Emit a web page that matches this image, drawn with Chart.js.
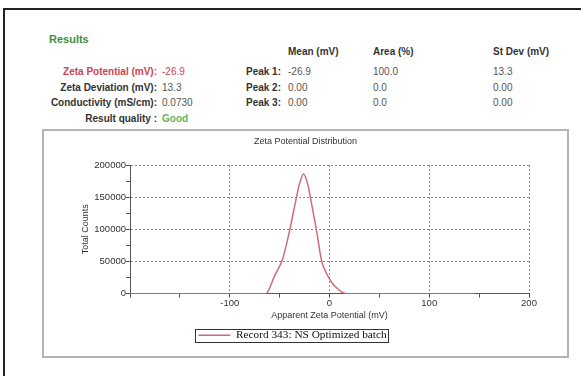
<!DOCTYPE html>
<html lang="en">
<head>
<meta charset="UTF-8">
<title>Zeta Potential Distribution</title>
<script src="https://cdn.jsdelivr.net/npm/chart.js@4.4.0/dist/chart.umd.min.js"></script>
<style>
    body { margin: 0; width: 581px; height: 376px; overflow: hidden; background: #fff;
           font-family: "Liberation Sans", Arial, sans-serif; position: relative; }
    .frame { position: absolute; left: 3px; top: 8px; width: 700px; height: 500px;
             border-left: 2px solid #222; border-top: 2px solid #222; }
    .t { position: absolute; font-size: 10px; line-height: 14px; white-space: nowrap; color: #555; }
    .b { font-weight: bold; color: #333; }
    .red { color: #cc4452; }
    .green { color: #5fb35f; }
    .panel { position: absolute; left: 42px; top: 129px; width: 527px; height: 229px;
             box-sizing: border-box; border: 2px solid #b4b4b4; }
    #chartBox { position: absolute; left: 43px; top: 129px; width: 525px; height: 229px; }
</style>
</head>
<body>
<div class="frame"></div>

<div class="t b" style="left:49px; top:32px; font-size:11px; color:#3d8f3d;">Results</div>
<div class="t b" style="left:288px; top:45px;">Mean (mV)</div>
<div class="t b" style="left:373px; top:45px;">Area (%)</div>
<div class="t b" style="left:493px; top:45px;">St Dev (mV)</div>

<div class="t b red" style="right:424px; top:65px;">Zeta Potential (mV):</div>
<div class="t red" style="left:162px; top:65px;">-26.9</div>
<div class="t b" style="right:300px; top:65px;">Peak 1:</div>
<div class="t" style="left:288px; top:65px;">-26.9</div>
<div class="t" style="left:373px; top:65px;">100.0</div>
<div class="t" style="left:493px; top:65px;">13.3</div>

<div class="t b" style="right:424px; top:81px;">Zeta Deviation (mV):</div>
<div class="t" style="left:162px; top:81px;">13.3</div>
<div class="t b" style="right:300px; top:81px;">Peak 2:</div>
<div class="t" style="left:288px; top:81px;">0.00</div>
<div class="t" style="left:373px; top:81px;">0.0</div>
<div class="t" style="left:493px; top:81px;">0.00</div>

<div class="t b" style="right:424px; top:96px;">Conductivity (mS/cm):</div>
<div class="t" style="left:162px; top:96px;">0.0730</div>
<div class="t b" style="right:300px; top:96px;">Peak 3:</div>
<div class="t" style="left:288px; top:96px;">0.00</div>
<div class="t" style="left:373px; top:96px;">0.0</div>
<div class="t" style="left:493px; top:96px;">0.00</div>

<div class="t b" style="right:424px; top:112px;">Result quality :</div>
<div class="t b green" style="left:162px; top:112px;">Good</div>

<div class="panel"></div>
<div id="chartBox"><canvas id="zetaChart"></canvas></div>

<script>
    // values
    var zetaMv = [-200, -64, -55, -47, -40, -34, -30, -26, -22, -18, -13, -8, -4, 0, 4, 8, 12, 17, 145];
    var totalCounts = [0, 0, 28000, 54000, 98000, 143000, 171000, 186000, 171000, 140000, 98000, 51500, 35000, 23000, 14000, 8000, 3000, 0, 0];
    var xLabelValues = [-100, 0, 100, 200];
    var yLabelValues = [0, 50000, 100000, 150000, 200000];
    var seriesName = 'Record 343: NS Optimized batch';

    var points = [];
    for (var i = 0; i < zetaMv.length; i++) {
        points.push({x: zetaMv[i], y: totalCounts[i]});
    }

    Chart.defaults.font.family = '"Liberation Sans", Arial, sans-serif';
    Chart.defaults.color = '#333';

    // box round the legend, legend nudged a bit left like the original
    var legendFrame = {
        id: 'legendFrame',
        afterLayout: function (chart) {
            chart.legend.left -= 13;
            chart.legend.right -= 13;
        },
        afterDraw: function (chart) {
            var hb = chart.legend.legendHitBoxes[0];
            if (!hb) return;
            var ctx = chart.ctx;
            ctx.save();
            ctx.strokeStyle = '#333';
            ctx.lineWidth = 1;
            ctx.strokeRect(Math.round(hb.left - 3) + 0.5, Math.round(hb.top - 1) + 0.5,
                           Math.round(hb.width + 5), Math.round(hb.height + 2));
            ctx.restore();
        }
    };

    var gridColor = function (labels) {
        return function (c) {
            if (!c.tick) return 'rgba(0,0,0,0)';
            return labels.indexOf(c.tick.value) >= 0 ? '#8a8a8a' : 'rgba(0,0,0,0)';
        };
    };

    new Chart(document.getElementById('zetaChart'), {
        type: 'line',
        data: {
            datasets: [{
                label: seriesName,
                data: points,
                borderColor: '#cf6b76',
                backgroundColor: '#cf6b76',
                borderWidth: 1.5,
                pointRadius: 0,
                cubicInterpolationMode: 'monotone',
                fill: false
            }]
        },
        options: {
            responsive: true,
            maintainAspectRatio: false,
            animation: false,
            layout: {padding: {left: 0, right: 0, top: 0, bottom: 7}},
            plugins: {
                title: {
                    display: true,
                    text: 'Zeta Potential Distribution',
                    color: '#333',
                    font: {size: 9, weight: 'normal'},
                    padding: {top: 7.6, bottom: 17.6}
                },
                legend: {
                    position: 'bottom',
                    labels: {
                        usePointStyle: true,
                        pointStyle: 'line',
                        pointStyleWidth: 32,
                        padding: 4,
                        color: '#111',
                        font: {family: '"Liberation Serif", "Times New Roman", serif', size: 11.3}
                    }
                },
                tooltip: {enabled: false}
            },
            scales: {
                x: {
                    type: 'linear',
                    min: -200,
                    max: 200,
                    afterFit: function (s) { s.height = 32; s.paddingRight = 39; },
                    ticks: {
                        stepSize: 50,
                        autoSkip: false,
                        maxRotation: 0,
                        padding: 0,
                        font: {size: 9.5},
                        callback: function (v) { return xLabelValues.indexOf(v) >= 0 ? v : ''; }
                    },
                    grid: {
                        color: gridColor([-100, 0, 100, 200]),
                        tickColor: '#555',
                        tickLength: 4
                    },
                    border: {color: '#555', width: 1, dash: [2, 2]},
                    title: {
                        display: true,
                        text: 'Apparent Zeta Potential (mV)',
                        font: {size: 9},
                        padding: {top: 0, bottom: 5}
                    }
                },
                y: {
                    min: 0,
                    max: 200000,
                    afterFit: function (s) { s.width = 87; },
                    ticks: {
                        stepSize: 25000,
                        autoSkip: false,
                        padding: 0,
                        font: {size: 9.5},
                        callback: function (v) { return yLabelValues.indexOf(v) >= 0 ? v : ''; }
                    },
                    grid: {
                        color: gridColor([50000, 100000, 150000, 200000]),
                        tickColor: '#555',
                        tickLength: 4
                    },
                    border: {color: '#555', width: 1, dash: [2, 2]},
                    title: {
                        display: true,
                        text: 'Total Counts',
                        font: {size: 9},
                        padding: {top: 37, bottom: 0}
                    }
                }
            }
        },
        plugins: [legendFrame]
    });
</script>
</body>
</html>
